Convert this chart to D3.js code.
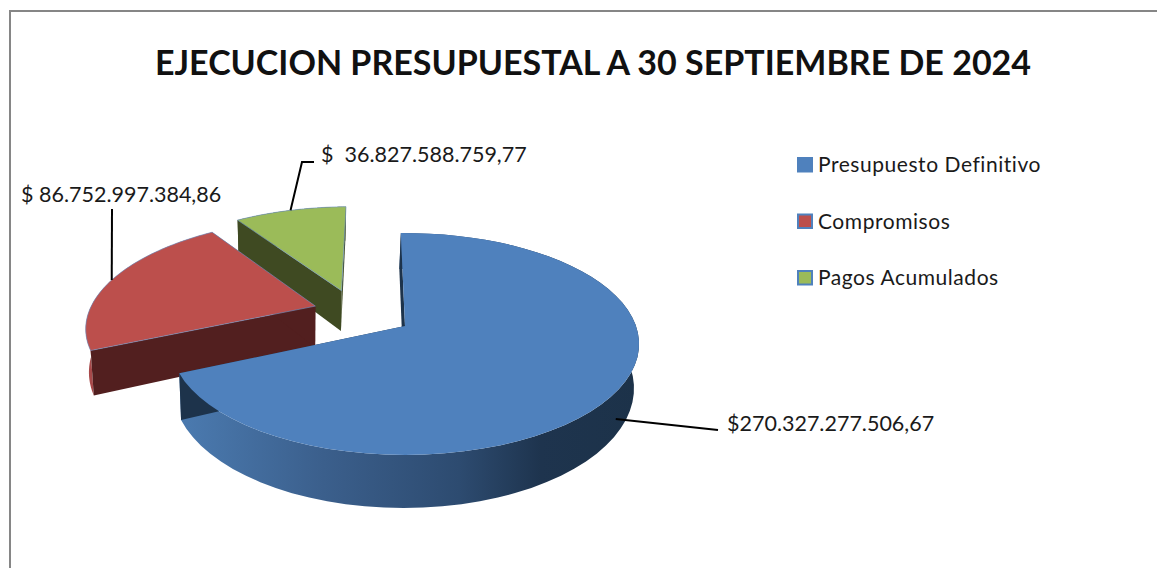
<!DOCTYPE html>
<html><head><meta charset="utf-8">
<script src="https://cdn.jsdelivr.net/npm/d3@7/dist/d3.min.js"></script>
<style>html,body{margin:0;padding:0;background:#fff}svg{display:block}text{font-family:Lato,"Open Sans",sans-serif;fill:#1a1a1a}</style>
</head><body><svg id="c" width="1157" height="568"></svg>
<script>
const titleText = "EJECUCION PRESUPUESTAL A 30 SEPTIEMBRE DE 2024";
const categories = ["Presupuesto Definitivo","Compromisos","Pagos Acumulados"];
const values = [270327277506.67, 86752997384.86, 36827588759.77];
const valueLabels = ["$270.327.277.506,67","$ 86.752.997.384,86","$  36.827.588.759,77"];
const topColors = ["#4F81BD","#BC4F4C","#9BBB59"];
const wallColors = ["#1D334B","#521F1F","#3F4A22"];
const outerWallColors = ["url(#blueWall)","#A8494A","#3F4A22"];

// layout
const cx=405, cy=326, R=231, tilt=108/231, k=0.162, depth=43, depthPow=1.2, zScale=0.985, zFixX=300;
const explode=[[0,0],[-0.40,-0.19],[-0.29,-0.345]];
const startDeg=-1.2;
const svg=d3.select("#c");

const defs=svg.append("defs");
const g=defs.append("linearGradient").attr("id","blueWall").attr("gradientUnits","userSpaceOnUse")
  .attr("x1",188).attr("x2",640).attr("y1",0).attr("y2",0);
[[0,"#4A79AE"],[0.3,"#3B5F8C"],[0.6,"#2D4B70"],[0.78,"#1E344E"],[1,"#1C3249"]].forEach(s=>g.append("stop").attr("offset",s[0]).attr("stop-color",s[1]));

svg.append("path").attr("d","M10,568V11H1157").attr("fill","none").attr("stroke","#868686").attr("stroke-width",2);

svg.append("text").attr("x",593).attr("y",75).attr("text-anchor","middle")
  .attr("font-size",34).attr("font-weight",700).attr("fill","#111").style("fill","#111").text(titleText);

function project(i,a,z,r=1){
  const u=explode[i][0]+r*Math.sin(a), v=explode[i][1]-r*Math.cos(a);
  const s=1/(1-k*v);
  let x=cx+R*u*s, y=cy+R*tilt*v*s;
  if(z){ x=zFixX+(x-zFixX)*(1-(1-zScale)*z); y+=z*depth*Math.pow(s,depthPow); }
  return [x,y];
}
const pie=d3.pie().sort(null).value(d=>d).startAngle(startDeg*Math.PI/180).endAngle(2*Math.PI+startDeg*Math.PI/180);
const arcs=pie(values);
const line=d3.line();
const sample=(a0,a1)=>d3.range(0,61).map(t=>a0+(a1-a0)*t/60);

const chart=svg.append("g");
[2,1,0].forEach(i=>{
  const d=arcs[i], a0=d.startAngle, a1=d.endAngle;
  const ring=sample(a0,a1);
  const G=chart.append("g");
  // outer wall
  G.append("path").attr("fill",outerWallColors[i])
    .attr("d",line([...ring.map(a=>project(i,a,0)),...ring.slice().reverse().map(a=>project(i,a,1))])+"Z");
  // radial walls
  [a0,a1].forEach(a=>{
    G.append("path").attr("fill",wallColors[i])
     .attr("d",line([project(i,a,0,0),project(i,a,0),project(i,a,1),project(i,a,1,0)])+"Z");
  });
  // top
  G.append("path").attr("fill",topColors[i]).attr("stroke","#6E93C4").attr("stroke-width",0.8).attr("stroke-opacity",i===0?0:0.8)
    .attr("d",line([project(i,0,0,0),...ring.map(a=>project(i,a,0))])+"Z");
});

// leader lines anchored on the slices
const leaders=[
  {i:0,frac:0.50,z:0.62,pts:[[718,430]]},
  {i:1,frac:0.50,z:0,pts:[[112,209]]},
  {i:2,frac:0.50,z:0,pts:[[302,162],[314,162]]}
];
leaders.forEach(l=>{
  const d=arcs[l.i];
  const a=d.startAngle+(d.endAngle-d.startAngle)*l.frac;
  const p=project(l.i,a,l.z);
  svg.append("path").attr("fill","none").attr("stroke","#000").attr("stroke-width",2)
   .attr("d",line([p,...l.pts]));
});

const labelPos=[[727,431],[21,202],[321,162]];
valueLabels.forEach((t,i)=>{
  svg.append("text").attr("x",labelPos[i][0]).attr("y",labelPos[i][1]).attr("font-size",21.5).attr("xml:space","preserve").style("white-space","pre").text(t);
});

// legend
const ly=d3.scalePoint().domain(categories).range([157,270]);
categories.forEach((c,i)=>{
  svg.append("rect").attr("x",798).attr("y",ly(c)+1).attr("width",14).attr("height",13.5)
    .attr("fill",topColors[i]).attr("stroke","#4F81BD").attr("stroke-width",2);
  svg.append("text").attr("x",818).attr("y",ly(c)+15).attr("font-size",21).attr("letter-spacing",0.55).text(c);
});
</script></body></html>
